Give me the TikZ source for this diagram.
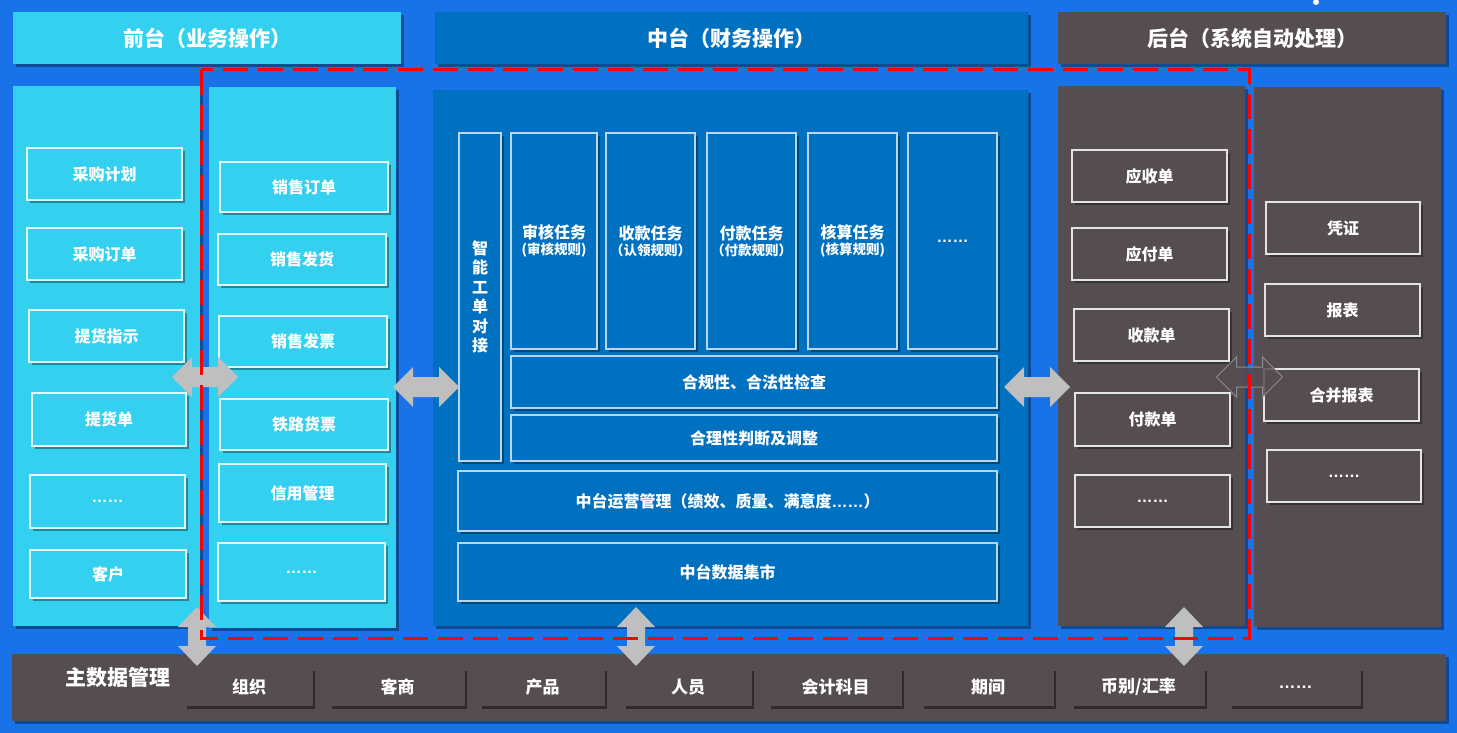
\documentclass[tikz,border=0pt]{standalone}
\usepackage{fontspec}
\setmainfont{Noto Sans CJK SC}
\newfontfamily\lsans{Liberation Sans}
\usetikzlibrary{shadows}
\definecolor{bgblue}{RGB}{24,114,232}
\definecolor{cyanp}{RGB}{52,208,240}
\definecolor{midb}{RGB}{0,112,192}
\definecolor{darkp}{RGB}{85,77,82}
\definecolor{arrowg}{RGB}{191,191,191}
\definecolor{hollowg}{RGB}{140,140,140}
\definecolor{redd}{RGB}{255,0,0}
\newcommand\subfs{\bfseries\fontsize{13.5}{15}\selectfont}
\tikzset{
  harrow/.pic={\path[pic actions] (-33,0) -- (-13,-20) -- (-13,-10) -- (13,-10) -- (13,-20) -- (33,0) -- (13,20) -- (13,10) -- (-13,10) -- (-13,20) -- cycle;},
  varrow/.pic={\path[pic actions] (0,-29.5) -- (19,-9.5) -- (9,-9.5) -- (9,9.5) -- (19,9.5) -- (0,29.5) -- (-19,9.5) -- (-9,9.5) -- (-9,-9.5) -- (-19,-9.5) -- cycle;}
}
\begin{document}
\begin{tikzpicture}[x=1pt,y=-1pt,
  every node/.style={inner sep=0pt, outer sep=0pt, anchor=north west, text=white, align=center, font=\bfseries\fontsize{16}{19}\selectfont},
  sz/.style 2 args={minimum width=#1, minimum height=#2},
  shad/.style={drop shadow={shadow xshift=3pt, shadow yshift=-3pt, opacity=0.35, fill=black}},
  hdr/.style={shad, font=\bfseries\fontsize{21}{25}\selectfont},
  panel/.style={shad},
  fbox/.style={fill=cyanp, draw=white!85!cyanp, line width=1.3pt, shad},
  mbox/.style={fill=midb, draw=white!72!midb, line width=1.1pt, shad},
  dbox/.style={fill=darkp, draw=white!85!darkp, line width=1.3pt, shad},
  mdi/.style={fill=darkp, sz={#1}{38}, drop shadow={shadow xshift=2pt, shadow yshift=-3pt, opacity=0.45, fill=black}, font=\bfseries\fontsize{17}{20}\selectfont},
  redline/.style={draw=redd, line width=3pt, dash pattern=on 25pt off 10pt}
]
% background / bounding box
\fill[bgblue] (0,0) rectangle (1457,733);
\useasboundingbox (0,0) rectangle (1457,733);
\fill[white] (1316,2) circle (3);

% headers
\node[hdr, fill=cyanp, sz={388}{52}] (hf) at (13,12) {前台（业务操作）};
\node[hdr, fill=midb, sz={593}{52}] (hm) at (435,12) {中台（财务操作）};
\node[hdr, fill=darkp, sz={388}{52}] (hb) at (1058,12) {后台（系统自动处理）};

% panels
\node[panel, fill=cyanp, sz={187}{540}] (fl) at (13,86) {};
\node[panel, fill=cyanp, sz={187}{541}] (fr) at (209,87) {};
\node[panel, fill=midb, sz={595}{536}] (mp) at (433,90) {};
\node[panel, fill=darkp, sz={187}{540}] (bl) at (1058,86) {};
\node[panel, fill=darkp, sz={187}{540}] (br) at (1254,87) {};
\node[panel, fill=darkp, sz={1434}{67}] (mb) at (12,654) {};

% front left
\node[fbox, sz={155}{52}] (f1) at (27,148) {采购计划};
\node[fbox, sz={155}{52}] (f2) at (27,228) {采购订单};
\node[fbox, sz={155}{52}] (f3) at (29,310) {提货指示};
\node[fbox, sz={154}{53}] (f4) at (32,393) {提货单};
\node[fbox, sz={155}{53}] (f5) at (30,475) {\lsans ……};
\node[fbox, sz={156}{48}] (f6) at (30,550) {客户};
% front right
\node[fbox, sz={168}{50}] (g1) at (220,162) {销售订单};
\node[fbox, sz={168}{51}] (g2) at (218,234) {销售发货};
\node[fbox, sz={168}{51}] (g3) at (219,316) {销售发票};
\node[fbox, sz={168}{51}] (g4) at (220,399) {铁路货票};
\node[fbox, sz={167}{58}] (g5) at (219,464) {信用管理};
\node[fbox, sz={167}{58}] (g6) at (218,543) {\lsans ……};

% middle
\node[mbox, sz={42}{328}, font=\bfseries\fontsize{16}{19.5}\selectfont] (m0) at (459,133) {智\\能\\工\\单\\对\\接};
\node[mbox, sz={86}{216}] (t1) at (511,133) {审核任务\\[-3pt]{\subfs (审核规则)}};
\node[mbox, sz={89}{216}] (t2) at (606,133) {收款任务\\[-3pt]{\subfs （认领规则）}};
\node[mbox, sz={89}{216}] (t3) at (707,133) {付款任务\\[-3pt]{\subfs （付款规则）}};
\node[mbox, sz={89}{216}] (t4) at (808,133) {核算任务\\[-3pt]{\subfs (核算规则)}};
\node[mbox, sz={89}{216}] (t5) at (908,133) {\lsans ……};
\node[mbox, sz={486}{52}] (m1) at (511,356) {合规性、合法性检查};
\node[mbox, sz={486}{46}] (m2) at (511,415) {合理性判断及调整};
\node[mbox, sz={539}{60}] (m3) at (458,471) {中台运营管理（绩效、质量、满意度{\lsans ……}）};
\node[mbox, sz={539}{58}] (m4) at (458,543) {中台数据集市};

% back left
\node[dbox, sz={155}{52}] (b1) at (1072,150) {应收单};
\node[dbox, sz={155}{52}] (b2) at (1072,228) {应付单};
\node[dbox, sz={155}{52}] (b3) at (1074,309) {收款单};
\node[dbox, sz={155}{53}] (b4) at (1075,393) {付款单};
\node[dbox, sz={155}{52}] (b5) at (1075,475) {\lsans ……};
% back right
\node[dbox, sz={154}{52}] (c1) at (1266,202) {凭证};
\node[dbox, sz={155}{52}] (c2) at (1265,284) {报表};
\node[dbox, sz={155}{52}] (c3) at (1264,369) {合并报表};
\node[dbox, sz={154}{52}] (c4) at (1267,450) {\lsans ……};

% master data
\node[anchor=center, font=\bfseries\fontsize{21}{25}\selectfont] (mt) at (118,677) {主数据管理};
\node[mdi=128] (d1) at (185,668) {组织};
\node[mdi=135] (d2) at (330,668) {客商};
\node[mdi=125] (d3) at (480,668) {产品};
\node[mdi=128] (d4) at (624,668) {人员};
\node[mdi=133] (d5) at (769,668) {会计科目};
\node[mdi=132] (d6) at (922,668) {期间};
\node[mdi=133] (d7) at (1072,668) {币别/汇率};
\node[mdi=131] (d8) at (1230,668) {\lsans ……};

% arrows
\pic[fill=arrowg] (a1) at (205,377) {harrow};
\pic[fill=arrowg] (a2) at (426,387) {harrow};
\pic[fill=arrowg] (a3) at (1037,387) {harrow};
\pic[fill=darkp, fill opacity=0.85, draw=hollowg, line width=1pt] (a4) at (1249.5,377) {harrow};
\pic[fill=arrowg] (v1) at (197,636.5) {varrow};
\pic[fill=arrowg] (v2) at (636,636.5) {varrow};
\pic[fill=arrowg] (v3) at (1184,636.5) {varrow};

% red dashed boundary
\draw[redline] (201,70) rectangle (1249,638);
\end{tikzpicture}
\end{document}
